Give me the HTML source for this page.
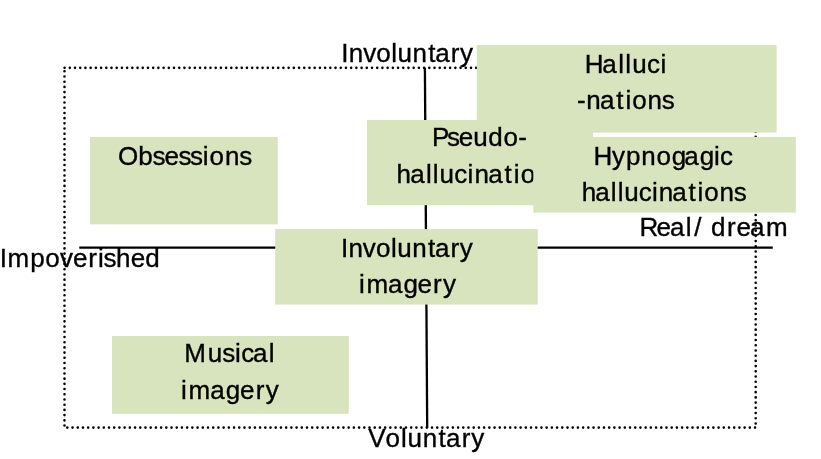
<!DOCTYPE html><html><head><meta charset="utf-8"><style>html,body{margin:0;padding:0;background:#fff;width:821px;height:459px;overflow:hidden}svg{display:block;will-change:transform}text{font-family:"Liberation Sans",sans-serif;font-size:26px;fill:#000;stroke:#000;stroke-width:0.35px;}</style></head><body>
<svg width="821" height="459" viewBox="0 0 821 459">
<g stroke="#000" stroke-width="2.6" stroke-linecap="round" stroke-dasharray="0 5.21" fill="none">
<line x1="64.60" y1="67.85" x2="752.33" y2="67.85"/>
<line x1="67.33" y1="427.6" x2="755.06" y2="427.6"/>
<line x1="64.5" y1="71.26" x2="64.5" y2="425.55"/>
<line x1="755.7" y1="69.15" x2="755.7" y2="423.44"/>
</g>
<line x1="424.9" y1="67.8" x2="427.2" y2="428.1" stroke="#000" stroke-width="2.3"/>
<line x1="79.25" y1="247.6" x2="772.8" y2="247.6" stroke="#000" stroke-width="2.4"/>
<text y="61.55"><tspan x="341.20">I</tspan><tspan x="348.66">n</tspan><tspan x="363.13">v</tspan><tspan x="376.26">o</tspan><tspan x="391.30">l</tspan><tspan x="397.56">u</tspan><tspan x="412.60">n</tspan><tspan x="428.19">t</tspan><tspan x="435.37">a</tspan><tspan x="450.80">r</tspan><tspan x="459.96">y</tspan></text>
<text y="266.70"><tspan x="-0.39">I</tspan><tspan x="7.62">m</tspan><tspan x="30.27">p</tspan><tspan x="45.25">o</tspan><tspan x="60.09">v</tspan><tspan x="73.08">e</tspan><tspan x="88.16">r</tspan><tspan x="98.04">i</tspan><tspan x="103.59">s</tspan><tspan x="116.03">h</tspan><tspan x="130.73">e</tspan><tspan x="145.23">d</tspan></text>
<text y="235.50"><tspan x="639.51">R</tspan><tspan x="656.61">e</tspan><tspan x="670.09">a</tspan><tspan x="685.83">l</tspan><tspan x="694.33">/</tspan><tspan x="710.91">d</tspan><tspan x="726.88">r</tspan><tspan x="736.54">e</tspan><tspan x="750.02">a</tspan><tspan x="765.98">m</tspan></text>
<text y="446.70"><tspan x="368.37">V</tspan><tspan x="385.58">o</tspan><tspan x="400.89">l</tspan><tspan x="407.42">u</tspan><tspan x="422.73">n</tspan><tspan x="438.59">t</tspan><tspan x="446.03">a</tspan><tspan x="461.73">r</tspan><tspan x="471.16">y</tspan></text>
<rect x="90.0" y="137.0" width="187.80" height="87.40" fill="#D7E4BD"/>
<text y="164.70"><tspan x="117.97">O</tspan><tspan x="138.31">b</tspan><tspan x="152.39">s</tspan><tspan x="164.62">e</tspan><tspan x="178.48">s</tspan><tspan x="190.01">s</tspan><tspan x="202.74">i</tspan><tspan x="209.59">o</tspan><tspan x="225.04">n</tspan><tspan x="239.23">s</tspan></text>
<rect x="275.2" y="229.1" width="262.50" height="75.50" fill="#D7E4BD"/>
<text y="256.70"><tspan x="340.95">I</tspan><tspan x="348.41">n</tspan><tspan x="362.87">v</tspan><tspan x="375.99">o</tspan><tspan x="391.03">l</tspan><tspan x="397.29">u</tspan><tspan x="412.32">n</tspan><tspan x="427.91">t</tspan><tspan x="435.08">a</tspan><tspan x="450.51">r</tspan><tspan x="459.66">y</tspan></text>
<text y="292.70"><tspan x="359.02">i</tspan><tspan x="366.50">m</tspan><tspan x="387.98">a</tspan><tspan x="403.49">g</tspan><tspan x="417.49">e</tspan><tspan x="433.06">r</tspan><tspan x="442.96">y</tspan></text>
<rect x="112.0" y="336.0" width="236.80" height="77.80" fill="#D7E4BD"/>
<text y="361.70"><tspan x="184.16">M</tspan><tspan x="207.76">u</tspan><tspan x="222.20">s</tspan><tspan x="235.02">i</tspan><tspan x="241.19">c</tspan><tspan x="252.94">a</tspan><tspan x="268.69">l</tspan></text>
<text y="398.70"><tspan x="181.02">i</tspan><tspan x="188.62">m</tspan><tspan x="210.21">a</tspan><tspan x="225.84">g</tspan><tspan x="239.95">e</tspan><tspan x="255.64">r</tspan><tspan x="265.66">y</tspan></text>
<rect x="476.8" y="45.0" width="299.80" height="87.60" fill="#D7E4BD"/>
<text y="72.90"><tspan x="584.69">H</tspan><tspan x="602.27">a</tspan><tspan x="618.14">l</tspan><tspan x="625.30">l</tspan><tspan x="632.22">u</tspan><tspan x="647.11">c</tspan><tspan x="660.61">i</tspan></text>
<text y="108.90"><tspan x="576.97">-</tspan><tspan x="586.31">n</tspan><tspan x="599.99">a</tspan><tspan x="616.25">t</tspan><tspan x="625.46">i</tspan><tspan x="632.23">o</tspan><tspan x="647.61">n</tspan><tspan x="661.73">s</tspan></text>
<rect x="367.0" y="120.0" width="226.00" height="85.20" fill="#D7E4BD"/>
<text y="145.50"><tspan x="431.90">P</tspan><tspan x="446.96">s</tspan><tspan x="458.85">e</tspan><tspan x="473.34">u</tspan><tspan x="488.23">d</tspan><tspan x="503.44">o</tspan><tspan x="518.27">-</tspan></text>
<text y="182.50"><tspan x="396.50">h</tspan><tspan x="410.26">a</tspan><tspan x="425.92">l</tspan><tspan x="432.87">l</tspan><tspan x="439.59">u</tspan><tspan x="454.28">c</tspan><tspan x="467.57">i</tspan><tspan x="474.47">n</tspan><tspan x="488.21">a</tspan><tspan x="504.54">t</tspan><tspan x="513.81">i</tspan><tspan x="520.65">o</tspan><tspan x="536.09">n</tspan><tspan x="550.27">s</tspan></text>
<rect x="533.3" y="136.9" width="262.50" height="75.70" fill="#D7E4BD"/>
<text y="164.66"><tspan x="593.49">H</tspan><tspan x="612.10">y</tspan><tspan x="625.93">p</tspan><tspan x="641.24">n</tspan><tspan x="656.58">o</tspan><tspan x="671.71">g</tspan><tspan x="684.34">a</tspan><tspan x="699.64">g</tspan><tspan x="713.91">i</tspan><tspan x="720.06">c</tspan></text>
<text y="200.70"><tspan x="581.70">h</tspan><tspan x="595.32">a</tspan><tspan x="610.84">l</tspan><tspan x="617.65">l</tspan><tspan x="624.23">u</tspan><tspan x="638.77">c</tspan><tspan x="651.92">i</tspan><tspan x="658.68">n</tspan><tspan x="672.28">a</tspan><tspan x="688.46">t</tspan><tspan x="697.59">i</tspan><tspan x="704.29">o</tspan><tspan x="719.59">n</tspan><tspan x="733.63">s</tspan></text>
</svg></body></html>
